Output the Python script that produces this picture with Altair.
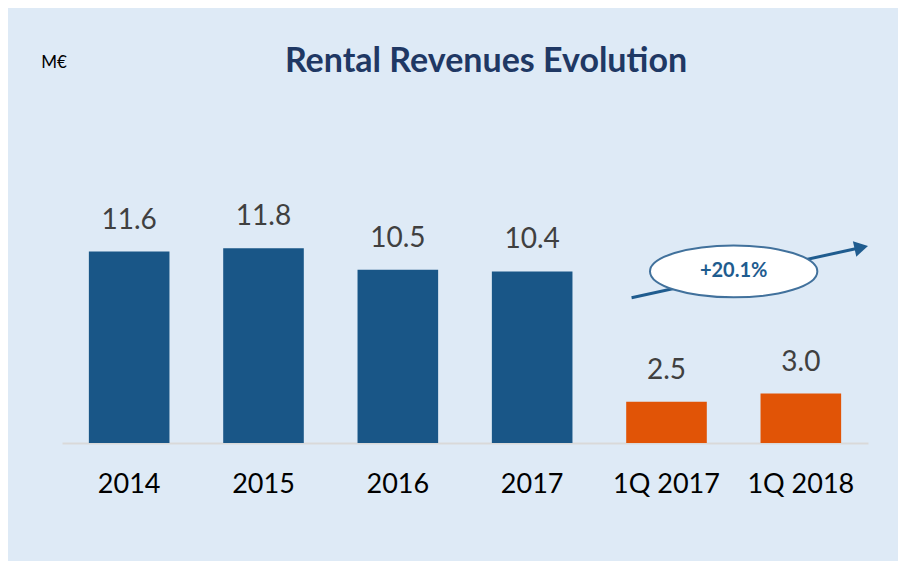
import altair as alt
import pandas as pd

categories = ["2014", "2015", "2016", "2017", "1Q 2017", "1Q 2018"]
values = [11.6, 11.8, 10.5, 10.4, 2.5, 3.0]
labels = ["11.6", "11.8", "10.5", "10.4", "2.5", "3.0"]
groups = ["year", "year", "year", "year", "quarter", "quarter"]

# annotation (growth arrow + ellipse), in band-index units on x and M€ on y
arrow_x = [4.24, 5.95]
arrow_y = [8.8, 11.85]
ellipse_x = [5.0]
ellipse_y = [10.4]
growth_text = ["+20.1%"]

FONT = "Lato"
BLUE = "#195687"
ORANGE = "#E15406"

df = pd.DataFrame({"cat": categories, "val": values, "lab": labels, "grp": groups})

yscale = alt.Scale(domain=[0, 20], nice=False)
bandscale = alt.Scale(paddingInner=0.4, paddingOuter=0.2)
xband = alt.X("cat:N", sort=categories, scale=bandscale,
              axis=alt.Axis(title=None, labelAngle=0, ticks=False, labelPadding=28,
                            labelFontSize=27, labelFont=FONT, labelColor="#000000",
                            domainColor="#D9D9D9", domainWidth=2, grid=False))

bars = alt.Chart(df).mark_bar().encode(
    x=xband,
    y=alt.Y("val:Q", scale=yscale, axis=None),
    color=alt.Color("grp:N", scale=alt.Scale(domain=["year", "quarter"], range=[BLUE, ORANGE]), legend=None),
)
vlabels = alt.Chart(df).mark_text(baseline="middle", dy=-31, fontSize=28, font=FONT, color="#404040").encode(
    x=alt.X("cat:N", sort=categories, scale=bandscale, axis=None),
    y=alt.Y("val:Q", scale=yscale, axis=None), text="lab:N"
)

xq = alt.Scale(domain=[0, 6], nice=False, zero=False)
arrow_df = pd.DataFrame({"x": [arrow_x[0]], "y": [arrow_y[0]], "x2": [arrow_x[1]], "y2": [arrow_y[1]]})
arrow_line = alt.Chart(arrow_df).mark_rule(color="#1F5C8F", strokeWidth=3).encode(
    x=alt.X("x:Q", scale=xq, axis=None), x2="x2:Q",
    y=alt.Y("y:Q", scale=yscale, axis=None), y2="y2:Q",
)
head_df = pd.DataFrame({"x": [arrow_x[1]], "y": [arrow_y[1]]})
arrow_head = alt.Chart(head_df).mark_point(shape="triangle-right", size=250, filled=True,
                                           color="#1F5C8F", opacity=1, angle=347.6).encode(
    x=alt.X("x:Q", scale=xq, axis=None), y=alt.Y("y:Q", scale=yscale, axis=None)
)
ell_df = pd.DataFrame({"x": ellipse_x, "y": ellipse_y, "t": growth_text})
ellipse = alt.Chart(ell_df).mark_point(
    shape="M -1 0 A 1 0.31 0 1 0 1 0 A 1 0.31 0 1 0 -1 0 Z",
    size=28000, filled=False, fill="#FFFFFF", fillOpacity=1, opacity=1,
    stroke="#41719C", strokeWidth=2,
).encode(x=alt.X("x:Q", scale=xq, axis=None), y=alt.Y("y:Q", scale=yscale, axis=None))
etext = alt.Chart(ell_df).mark_text(fontSize=20, fontWeight="bold", font=FONT, color="#1F5C8F",
                                    baseline="middle").encode(
    x=alt.X("x:Q", scale=xq, axis=None), y=alt.Y("y:Q", scale=yscale, axis=None), text="t:N"
)

tdf = pd.DataFrame({"t": ["Rental Revenues Evolution"]})
title = alt.Chart(tdf).mark_text(fontSize=34, fontWeight="bold", font=FONT, color="#1F3864",
                                 baseline="middle", align="center").encode(
    x=alt.value(424), y=alt.value(-51), text="t:N")
udf = pd.DataFrame({"t": ["M€"]})
unit = alt.Chart(udf).mark_text(fontSize=17, font=FONT, color="#000000",
                                baseline="middle", align="center").encode(
    x=alt.value(-8), y=alt.value(-50), text="t:N")

chart = alt.layer(bars, vlabels, arrow_line, arrow_head, ellipse, etext, title, unit).resolve_scale(
    x="independent"
).properties(
    width=806, height=330,
    autosize=alt.AutoSizeParams(type="none"),
    padding={"left": 54, "top": 105, "right": 30, "bottom": 118},
    background="#DEEAF6",
).configure_view(stroke=None)

chart.save("out.html", embed_options={"renderer": "svg", "actions": False})
